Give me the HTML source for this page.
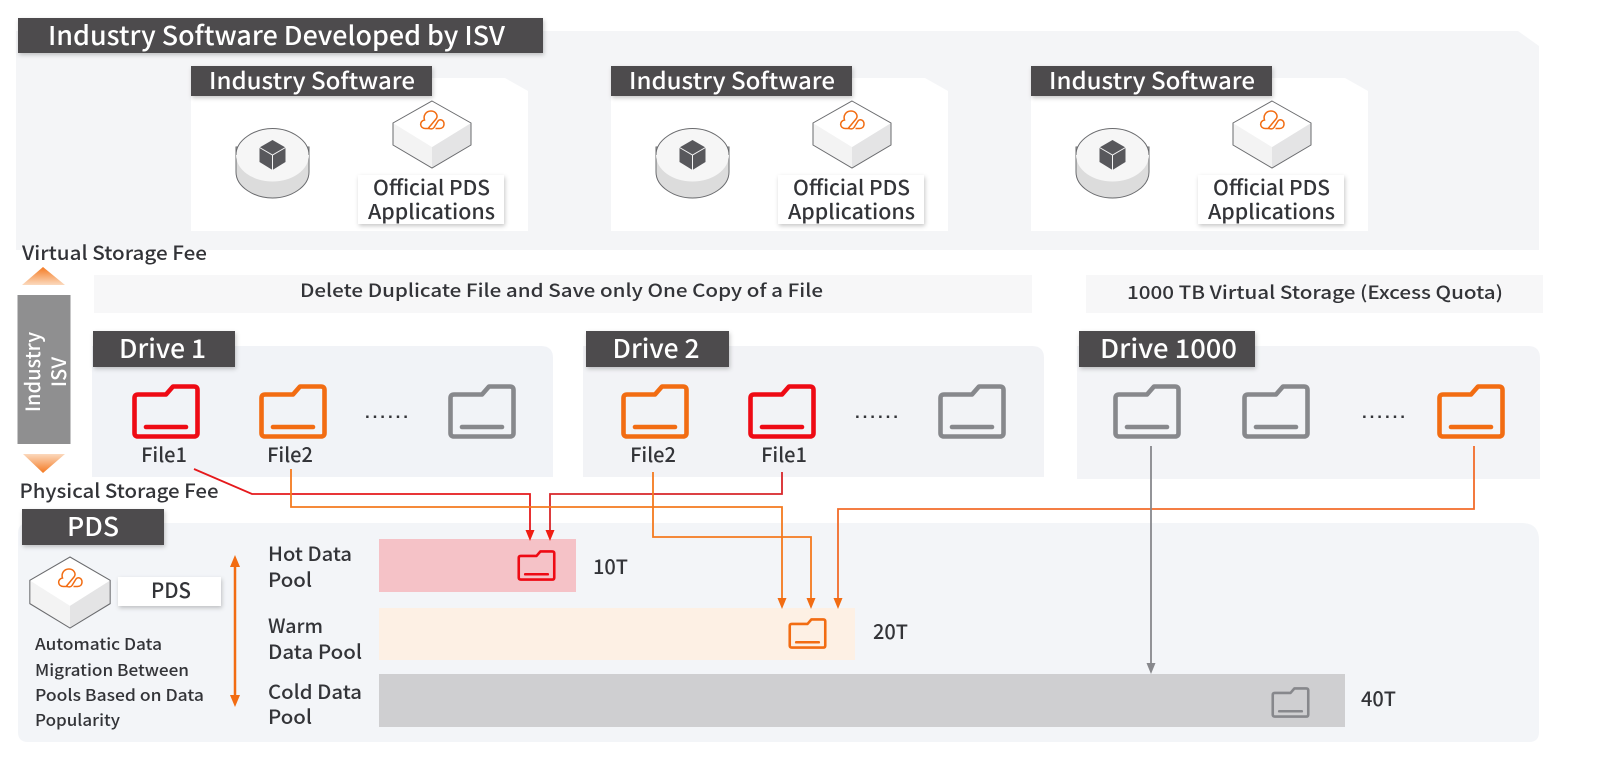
<!DOCTYPE html>
<html><head><meta charset="utf-8"><style>
html,body{margin:0;padding:0;background:#fff;width:1600px;height:760px;overflow:hidden}
svg{display:block}
text{font-family:"Noto Sans CJK SC","Liberation Sans",sans-serif;fill:#333438;font-weight:500}
.w{fill:#fff}
</style></head><body>
<svg width="1600" height="760" viewBox="0 0 1600 760" xmlns="http://www.w3.org/2000/svg">
<defs>
<filter id="sh" x="-10%" y="-20%" width="120%" height="150%"><feDropShadow dx="1" dy="2" stdDeviation="2" flood-color="#000" flood-opacity=".22"/></filter>
<linearGradient id="up" x1="0" y1="0" x2="0" y2="1"><stop offset="0" stop-color="#f47a22"/><stop offset="1" stop-color="#fbd9bd"/></linearGradient>
<linearGradient id="dn" x1="0" y1="0" x2="0" y2="1"><stop offset="0" stop-color="#fbd9bd"/><stop offset="1" stop-color="#f47a22"/></linearGradient>
<symbol id="folder" viewBox="0 0 68 55" overflow="visible">
<path d="M6 10.5H34L41 2.5H62Q65.5 2.5 65.5 6V49Q65.5 52.5 62 52.5H6Q2.5 52.5 2.5 49V14Q2.5 10.5 6 10.5Z" fill="none" stroke="currentColor" stroke-width="4.6" stroke-linejoin="round"/>
<path d="M14 43H54" stroke="currentColor" stroke-width="4.6" stroke-linecap="round"/>
</symbol>
<g id="logo" fill="none" stroke="#f26c12" stroke-width="1.500">
<path d="M-2 8.500H-6.500C-12.500 8.500 -13 1 -7.500 0C-9 -4.500 -6 -9 -1 -9C4 -9 6.500 -4 4 -1L-3.500 8C-1.500 9.500 1 9 2 7.500L6 1C8 -1.500 12 0 12 4C12 7 10 8.500 7.500 8.500H3.500"/>
</g>
<g id="box">
<path d="M0 0L39 22V44L0 67L-39 44V22Z" fill="#fff"/>
<path d="M0 46L39 22V44L0 67Z" fill="#e4e4e5"/>
<path d="M0 46L-39 22V44L0 67Z" fill="#f3f3f3"/>
<path d="M0 0L39 22L0 46L-39 22Z" fill="#fff"/>
<path d="M0 0L39 22V44L0 67L-39 44V22Z" fill="none" stroke="#6a6b6e" stroke-width="1"/>
</g>
<g id="cyl">
<path d="M-36.500 -8V17C-36.500 32 -18 43 0 43S36.500 32 36.500 17V-8Z" fill="#dcdcdc" stroke="#6a6b6e" stroke-width="1"/>
<ellipse cx="0" cy="0" rx="36.500" ry="26.500" fill="#f6f6f6" stroke="none"/>
<path d="M-36.500 0C-36.500 -15 -18 -26.500 0 -26.500S36.500 -15 36.500 0" fill="none" stroke="#6a6b6e" stroke-width="1"/>
<path d="M0 -15L13 -7.500V7L0 15L-13 7V-7.500Z" fill="#58585c"/>
<path d="M-13 -7.500L0 0L13 -7.500M0 0V15" fill="none" stroke="#f6f6f6" stroke-width="1"/>
</g>
<g id="card">
<path d="M191 78H505L528 91V231H191Z" fill="#fff"/>
<rect x="191" y="66" width="241" height="30" fill="#4d4c4e" filter="url(#sh)"/>
<text class="w" x="209" y="89" font-size="23" textLength="206" lengthAdjust="spacingAndGlyphs">Industry Software</text>
<use href="#cyl" x="272.500" y="155"/>
<use href="#box" x="432" y="101"/>
<use href="#logo" x="432" y="120"/>
<rect x="358" y="175" width="146" height="49" fill="#fff" filter="url(#sh)"/>
<text x="373" y="195" font-size="20.500" textLength="117" lengthAdjust="spacingAndGlyphs">Official PDS</text>
<text x="368" y="219" font-size="20.500" textLength="127" lengthAdjust="spacingAndGlyphs">Applications</text>
</g>
</defs>

<!-- Top panel -->
<path d="M16 31H1518L1539 46V250H16Z" fill="#f4f5f7"/>
<rect x="18" y="18" width="525" height="35" fill="#4d4c4e" filter="url(#sh)"/>
<text class="w" x="48" y="45" font-size="26" textLength="457" lengthAdjust="spacingAndGlyphs">Industry Software Developed by ISV</text>
<use href="#card"/>
<use href="#card" x="420"/>
<use href="#card" x="840"/>

<!-- Left fee indicator -->
<text x="22" y="260" font-size="19.500" textLength="185" lengthAdjust="spacingAndGlyphs">Virtual Storage Fee</text>
<path d="M43 267L65 285H22Z" fill="url(#up)"/>
<rect x="17.500" y="295" width="53" height="149" fill="#8f8f90"/>
<text class="w" transform="translate(40 372) rotate(-90)" text-anchor="middle" font-size="20" style="fill:#fff">Industry</text>
<text class="w" transform="translate(66 372) rotate(-90)" text-anchor="middle" font-size="20" style="fill:#fff">ISV</text>
<path d="M23 454H65L43 473Z" fill="url(#dn)"/>
<text x="19.500" y="498" font-size="19.500" textLength="199" lengthAdjust="spacingAndGlyphs">Physical Storage Fee</text>

<!-- Bars -->
<rect x="94" y="275" width="938" height="38" fill="#f7f7f8"/>
<text x="300" y="297" font-size="18" textLength="523" lengthAdjust="spacingAndGlyphs">Delete Duplicate File and Save only One Copy of a File</text>
<rect x="1086" y="275" width="457" height="38" fill="#f7f7f8"/>
<text x="1127" y="299" font-size="18" textLength="376" lengthAdjust="spacingAndGlyphs">1000 TB Virtual Storage (Excess Quota)</text>

<!-- Drive panels -->
<path d="M92 346H541Q553 346 553 358V477H92Z" fill="#f1f3f7"/>
<path d="M583 346H1032Q1044 346 1044 358V477H583Z" fill="#f2f3f6"/>
<path d="M1077 346H1528Q1540 346 1540 358V479H1077Z" fill="#f3f4f7"/>
<rect x="93" y="331" width="142" height="36" fill="#4d4c4e" filter="url(#sh)"/>
<text class="w" x="119" y="358" font-size="26" textLength="87" lengthAdjust="spacingAndGlyphs">Drive 1</text>
<rect x="586" y="331" width="143" height="36" fill="#4d4c4e" filter="url(#sh)"/>
<text class="w" x="612.500" y="358" font-size="26" textLength="87" lengthAdjust="spacingAndGlyphs">Drive 2</text>
<rect x="1079" y="331" width="176" height="36" fill="#4d4c4e" filter="url(#sh)"/>
<text class="w" x="1100" y="358" font-size="26" textLength="137" lengthAdjust="spacingAndGlyphs">Drive 1000</text>

<!-- Folders -->
<use href="#folder" x="132" y="384" width="68" height="55" color="#ee0a14"/>
<use href="#folder" x="259" y="384" width="68" height="55" color="#f26c12"/>
<use href="#folder" x="448" y="384" width="68" height="55" color="#87888c"/>
<use href="#folder" x="621" y="384" width="68" height="55" color="#f26c12"/>
<use href="#folder" x="748" y="384" width="68" height="55" color="#ee0a14"/>
<use href="#folder" x="938" y="384" width="68" height="55" color="#87888c"/>
<use href="#folder" x="1113" y="384" width="68" height="55" color="#87888c"/>
<use href="#folder" x="1242" y="384" width="68" height="55" color="#87888c"/>
<use href="#folder" x="1437" y="384" width="68" height="55" color="#f26c12"/>
<text x="365" y="422" font-size="17" textLength="43" style="font-family:'Liberation Sans',sans-serif;font-weight:700" transform="translate(0 -4)">......</text>
<text x="855" y="422" font-size="17" textLength="43" style="font-family:'Liberation Sans',sans-serif;font-weight:700" transform="translate(0 -4)">......</text>
<text x="1362" y="422" font-size="17" textLength="43" style="font-family:'Liberation Sans',sans-serif;font-weight:700" transform="translate(0 -4)">......</text>
<text x="164" y="462" font-size="20" text-anchor="middle">File1</text>
<text x="290" y="462" font-size="20" text-anchor="middle">File2</text>
<text x="653" y="462" font-size="20" text-anchor="middle">File2</text>
<text x="784" y="462" font-size="20" text-anchor="middle">File1</text>

<!-- PDS panel -->
<path d="M18 533Q18 523 28 523H1522Q1539 523 1539 540V732Q1539 742 1529 742H28Q18 742 18 732Z" fill="#f3f5f8"/>
<rect x="22" y="509" width="142" height="36" fill="#4d4c4e" filter="url(#sh)"/>
<text class="w" x="67" y="536" font-size="26" textLength="52" lengthAdjust="spacingAndGlyphs">PDS</text>
<g transform="translate(70 557) scale(1.03 1.06)"><use href="#box"/></g>
<use href="#logo" x="70" y="578"/>
<rect x="118" y="577" width="103" height="29" fill="#fff" filter="url(#sh)"/>
<text x="151" y="598" font-size="21" textLength="40" lengthAdjust="spacingAndGlyphs">PDS</text>
<text x="35" y="650" font-size="16" textLength="127" lengthAdjust="spacingAndGlyphs">Automatic Data</text>
<text x="35" y="676" font-size="16" textLength="154" lengthAdjust="spacingAndGlyphs">Migration Between</text>
<text x="35" y="701" font-size="16" textLength="169" lengthAdjust="spacingAndGlyphs">Pools Based on Data</text>
<text x="35" y="726" font-size="16" textLength="85" lengthAdjust="spacingAndGlyphs">Popularity</text>
<path d="M235 565V697" stroke="#f26c12" stroke-width="2.500"/>
<path d="M235 555L230 567H240ZM235 707L230 695H240Z" fill="#f26c12"/>
<text x="268" y="561" font-size="19.500" textLength="84" lengthAdjust="spacingAndGlyphs">Hot Data</text>
<text x="268" y="587" font-size="19.500" textLength="44" lengthAdjust="spacingAndGlyphs">Pool</text>
<text x="268" y="633" font-size="19.500" textLength="55" lengthAdjust="spacingAndGlyphs">Warm</text>
<text x="268" y="659" font-size="19.500" textLength="94" lengthAdjust="spacingAndGlyphs">Data Pool</text>
<text x="268" y="699" font-size="19.500" textLength="94" lengthAdjust="spacingAndGlyphs">Cold Data</text>
<text x="268" y="724" font-size="19.500" textLength="44" lengthAdjust="spacingAndGlyphs">Pool</text>

<!-- Pools -->
<rect x="379" y="539" width="197" height="53" fill="#f5c2c7"/>
<rect x="379" y="608" width="476" height="52" fill="#fdf0e4"/>
<rect x="379" y="674" width="966" height="53" fill="#cfcfd1"/>
<use href="#folder" x="517" y="550" width="39" height="31" color="#ee0a14"/>
<use href="#folder" x="788" y="618" width="39" height="31" color="#f26c12"/>
<use href="#folder" x="1271" y="687" width="39" height="31" color="#87888c"/>
<text x="593" y="574" font-size="20">10T</text>
<text x="873" y="639" font-size="20">20T</text>
<text x="1361" y="706" font-size="20">40T</text>

<!-- Connectors -->
<g fill="none" stroke-width="1.800">
<path d="M194 469L252 494H530V532" stroke="#e5191c"/>
<path d="M782 472V494H550V532" stroke="#d8262a"/>
<path d="M291 469V507H782V600" stroke="#f47a1f"/>
<path d="M653 472V537H811V600" stroke="#f47a1f"/>
<path d="M1474 446V509H838V600" stroke="#f26c2a"/>
<path d="M1151 446V664" stroke="#87888c"/>
</g>
<path d="M530 541L525.500 530H534.500ZM550 541L545.500 530H554.500Z" fill="#f01e14"/>
<path d="M782 609L777.500 598H786.500ZM811 609L806.500 598H815.500ZM838 609L833.500 598H842.500Z" fill="#f26c12"/>
<path d="M1151 674L1146.500 663H1155.500Z" fill="#87888c"/>
</svg>
</body></html>
